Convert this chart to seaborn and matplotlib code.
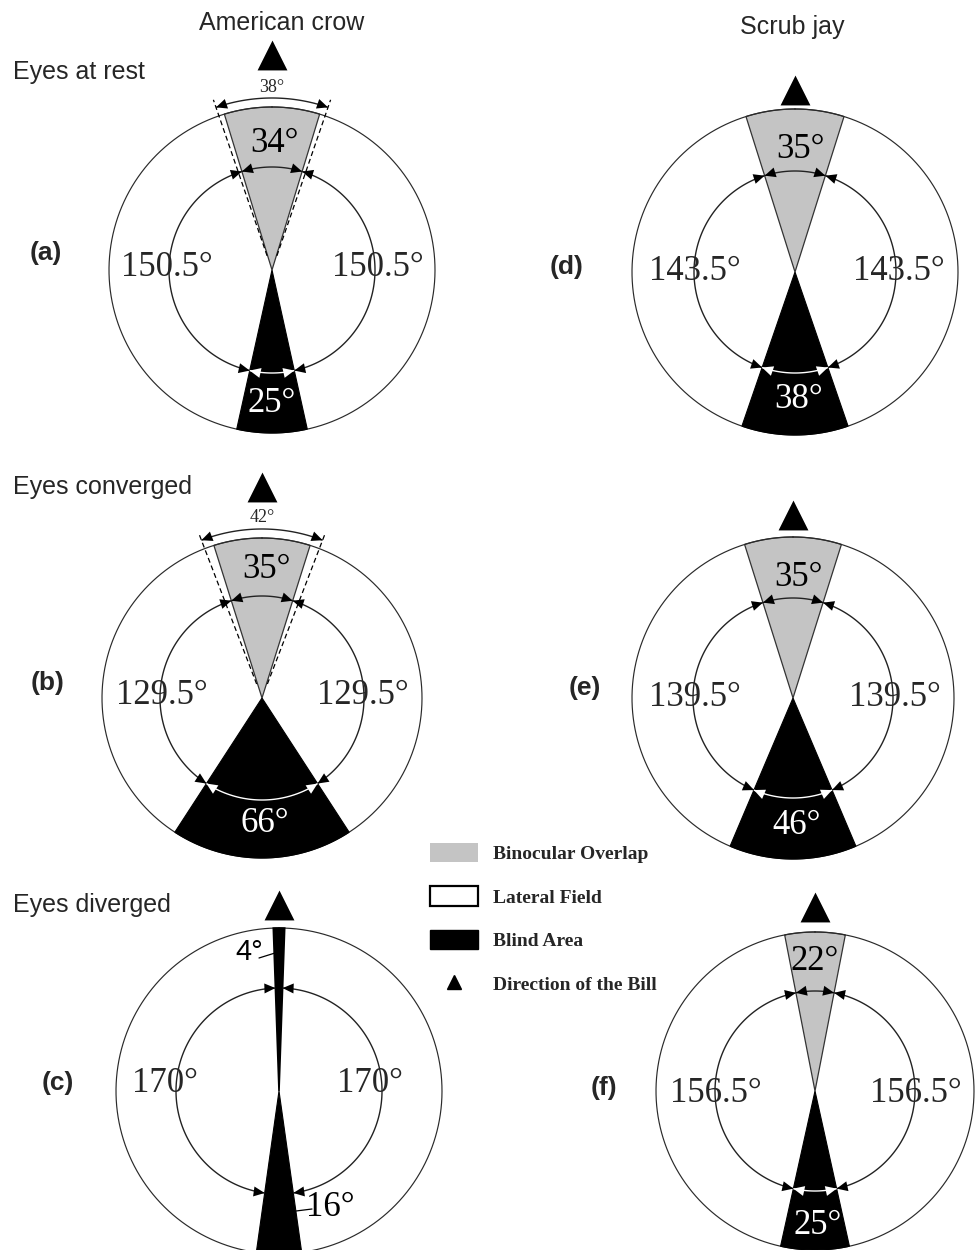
import numpy as np
import matplotlib
matplotlib.use("Agg")
import matplotlib.pyplot as plt
from matplotlib.patches import Polygon, Patch
from matplotlib.lines import Line2D
import seaborn as sns

# Visual field data (degrees), panels (a)-(f)
panel_labels = ["(a)", "(b)", "(c)", "(d)", "(e)", "(f)"]
species = ["American crow", "Scrub jay"]
conditions = ["Eyes at rest", "Eyes converged", "Eyes diverged"]
front_field = [34, 35, 4, 35, 35, 22]          # binocular overlap (or frontal blind in c)
front_is_blind = [False, False, True, False, False, False]
lateral_field = [150.5, 129.5, 170, 143.5, 139.5, 156.5]
rear_blind = [25, 66, 16, 38, 46, 25]
eye_move_field = [38, 42, None, None, None, None]  # dashed: field including eye movement

# Layout in pixels (figure is 976 x 1250)
centers = [(272, 270), (262, 698), (279, 1091), (795, 272), (793, 698), (815, 1091)]
outer_r = [163, 160, 163, 163, 161, 159]
inner_r = [103, 102, 103, 101, 100, 100]
bill_base = [200, 196, 171, 167, 168, 169]
front_txt = [(3, -126), (4, -129), (-30, -139), (5, -122), (6, -121), (0, -130)]
rear_txt = [(0, 134), (3, 126), (51, 117), (4, 128), (4, 127), (3, 135)]
lat_txt = [(-105, 106, -3), (-100, 101, -3), (-114, 91, -7),
           (-100, 104, 0), (-98, 102, -1), (-99, 101, 2)]
label_pos = [(46, 253), (48, 683), (58, 1083), (567, 267), (585, 688), (604, 1088)]
cond_pos = [(13, 72), (13, 487), (13, 905)]
species_pos = [(282, 23), (792, 27)]

GRAY = "#c4c4c4"
HEAD_LEN, HEAD_W = 11, 5
SERIF = ["Liberation Serif", "DejaVu Serif"]
SANS = ["Liberation Sans", "DejaVu Sans"]

sns.set_theme(style="white")
plt.rcParams["font.family"] = SANS


def pt(cx, cy, r, b):
    rad = np.radians(b)
    return cx + r * np.sin(rad), cy - r * np.cos(rad)


def arc_xy(cx, cy, r, b1, b2, n=120):
    bb = np.linspace(b1, b2, n)
    return pt(cx, cy, r, bb)


def wedge(ax, cx, cy, r, b1, b2, **kw):
    xs, ys = arc_xy(cx, cy, r, b1, b2)
    verts = [(cx, cy)] + list(zip(xs, ys))
    ax.add_patch(Polygon(verts, closed=True, **kw))


def arrowhead(ax, cx, cy, r, b, sense, color, z=6):
    tip = np.array(pt(cx, cy, r, b))
    rad = np.radians(b)
    t = np.array([np.cos(rad), np.sin(rad)]) * sense
    n = np.array([np.sin(rad), -np.cos(rad)])
    base = tip - t * HEAD_LEN
    ax.add_patch(Polygon([tip, base + n * HEAD_W, base - n * HEAD_W],
                         closed=True, facecolor=color, edgecolor="none", zorder=z))


def arc(ax, cx, cy, r, b1, b2, color, z=5, **kw):
    xs, ys = arc_xy(cx, cy, r, b1, b2)
    ax.plot(xs, ys, color=color, lw=1.0, zorder=z, solid_capstyle="butt", **kw)


fig = plt.figure(figsize=(9.76, 12.5), dpi=100)
ax = fig.add_axes([0, 0, 1, 1])
ax.set_xlim(0, 976)
ax.set_ylim(1250, 0)
ax.axis("off")

for i in range(6):
    cx, cy = centers[i]
    R, r = outer_r[i], inner_r[i]
    f, rb = front_field[i], rear_blind[i]

    # outer circle
    xs, ys = arc_xy(cx, cy, R, 0, 360, 360)
    ax.plot(xs, ys, color="#2a2a2a", lw=0.85, zorder=3)

    # frontal sector
    if front_is_blind[i]:
        wedge(ax, cx, cy, R, -f / 2, f / 2, facecolor="black", edgecolor="black",
              lw=1.2, zorder=4)
    else:
        wedge(ax, cx, cy, R, -f / 2, f / 2, facecolor=GRAY, edgecolor="#333333",
              lw=0.9, zorder=2)
    # rear blind sector
    wedge(ax, cx, cy, R, 180 - rb / 2, 180 + rb / 2, facecolor="black",
          edgecolor="black", lw=0.8, zorder=4)

    # lateral field arcs with arrowheads
    arc(ax, cx, cy, r, f / 2, 180 - rb / 2, "#222222")
    arc(ax, cx, cy, r, 180 + rb / 2, 360 - f / 2, "#222222")
    arrowhead(ax, cx, cy, r, f / 2, -1, "black")
    arrowhead(ax, cx, cy, r, 180 - rb / 2, 1, "black")
    arrowhead(ax, cx, cy, r, 180 + rb / 2, -1, "black")
    arrowhead(ax, cx, cy, r, 360 - f / 2, 1, "black")

    # frontal arc
    if f >= 20:
        arc(ax, cx, cy, r, -f / 2, f / 2, "#222222")
        arrowhead(ax, cx, cy, r, f / 2, 1, "black")
        arrowhead(ax, cx, cy, r, -f / 2, -1, "black")
    # rear arc (white inside blind area)
    if rb >= 20:
        arc(ax, cx, cy, r, 180 - rb / 2, 180 + rb / 2, "white")
        arrowhead(ax, cx, cy, r, 180 + rb / 2, 1, "white")
        arrowhead(ax, cx, cy, r, 180 - rb / 2, -1, "white")

    # field with eye movements (dashed)
    em = eye_move_field[i]
    if em is not None:
        for s in (-1, 1):
            x0, y0 = pt(cx, cy, 15, s * em / 2)
            x1, y1 = pt(cx, cy, R + 17, s * em / 2)
            ax.plot([x0, x1], [y0, y1], color="black", lw=0.9, ls=(0, (4, 2.5)), zorder=5)
        ra = R + 9
        arc(ax, cx, cy, ra, -em / 2, em / 2, "#222222")
        arrowhead(ax, cx, cy, ra, em / 2, 1, "black")
        arrowhead(ax, cx, cy, ra, -em / 2, -1, "black")
        lx, ly = pt(cx, cy, R + 20, 0)
        ax.text(lx, ly, f"{em}°", family=SERIF, fontsize=13, ha="center",
                va="center", zorder=7)

    # bill direction
    bx, by = cx, cy - bill_base[i] - 15
    ax.scatter([bx], [by], marker="^", s=21.5 ** 2, color="black",
               linewidths=0, zorder=6)

    # value labels
    dx, dy = front_txt[i]
    if front_is_blind[i]:
        ax.text(cx + dx, cy + dy, f"{f:g}°", family=SANS, fontsize=21,
                ha="center", va="center", color="black", zorder=7)
    else:
        ax.text(cx + dx, cy + dy, f"{f:g}°", family=SERIF, fontsize=25,
                ha="center", va="center", color="black", zorder=7)
    dx, dy = rear_txt[i]
    ax.text(cx + dx, cy + dy, f"{rb:g}°", family=SERIF, fontsize=25,
            ha="center", va="center", color="black" if i == 2 else "white", zorder=7)
    lx_, rx_, ly_ = lat_txt[i]
    for ox in (lx_, rx_):
        ax.text(cx + ox, cy + ly_, f"{lateral_field[i]:g}°", family=SERIF,
                fontsize=25, ha="center", va="center", zorder=7)

    px, py = label_pos[i]
    ax.text(px, py, panel_labels[i], family=SANS, fontsize=19, fontweight="bold",
            ha="center", va="center")

# leader lines for the narrow sectors in (c)
cx, cy = centers[2]
ax.plot([cx - 20, cx - 4], [cy - 133, cy - 138], color="black", lw=0.9, zorder=7)
ax.plot([cx + 17, cx + 33], [cy + 120, cy + 118], color="black", lw=0.9, zorder=7)

for txt, (x, y) in zip(conditions, cond_pos):
    ax.text(x, y, txt, family=SANS, fontsize=18, ha="left", va="center")
for txt, (x, y) in zip(species, species_pos):
    ax.text(x, y, txt, family=SANS, fontsize=18, ha="center", va="center")

handles = [
    Patch(facecolor=GRAY, edgecolor="none"),
    Patch(facecolor="white", edgecolor="black", linewidth=1.6),
    Patch(facecolor="black", edgecolor="black"),
    Line2D([], [], marker="^", color="black", linestyle="none", markersize=10),
]
names = ["Binocular Overlap", "Lateral Field", "Blind Area", "Direction of the Bill"]
ax.legend(handles, names, loc="upper left", bbox_to_anchor=(420, 833),
          bbox_transform=ax.transData, frameon=False, borderpad=0,
          handlelength=2.5, handleheight=1.15, handletextpad=0.75,
          labelspacing=1.2, prop={"family": SERIF, "weight": "bold", "size": 14})

fig.savefig("out.png", dpi=100, facecolor="white")
